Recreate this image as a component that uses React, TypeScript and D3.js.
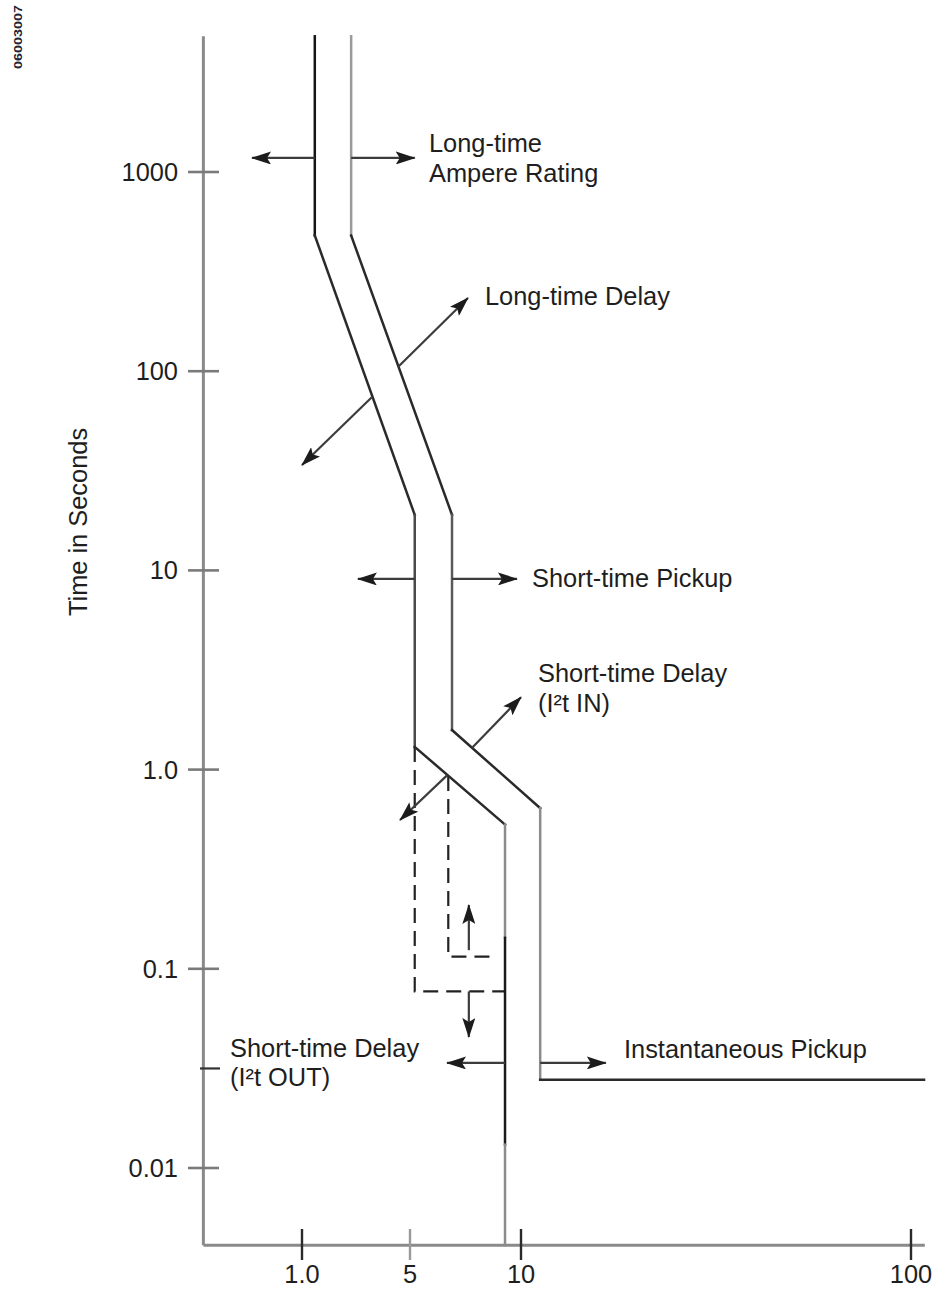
import React from "react";
import * as d3 from "d3";

const W = 936;
const H = 1289;

// ---- axes ----
const xTickValues = [1, 5, 10, 100];
const xTickLabels = ["1.0", "5", "10", "100"];
const yTickValues = [1000, 100, 10, 1, 0.1, 0.01];
const yTickLabels = ["1000", "100", "10", "1.0", "0.1", "0.01"];
const yMinorTicks = [0.0316];
const xExtent = [0.23, 108.5];
const yExtent = [4800, 0.0041];
const yTitle = "Time in Seconds";
const figureId = "06003007";

// ---- trip band curves: [multiple of current, seconds] ----
const minCurve: [number, number][] = [
  [1.21, 4800], [1.21, 480], [5.15, 19], [5.15, 1.3], [9.05, 0.53],
  [9.05, 0.143], [9.05, 0.0131], [9.05, 0.0041],
];
const maxCurve: [number, number][] = [
  [2.08, 4800], [2.08, 480], [6.5, 19], [6.5, 1.58], [11.2, 0.64],
  [11.2, 0.0277], [108, 0.0277],
];
const i2tOutDash: [number, number][] = [[5.15, 1.3], [5.15, 0.077], [9.05, 0.077]];
const i2tInDash: [number, number][] = [[6.35, 0.93], [6.35, 0.115], [8.5, 0.115]];

// ---- adjustment arrows: [from, to] ----
const arrowFrom: [number, number][] = [
  [1.21, 1176], [2.08, 1176],
  [2.84, 74.2], [4.18, 105],
  [5.15, 9.06], [6.5, 9.06],
  [7.36, 1.284], [6.3, 0.935],
  [7.22, 0.124], [7.22, 0.077],
  [9.05, 0.0337], [11.2, 0.0337],
];
const arrowTo: [number, number][] = [
  [0.475, 1176], [5.15, 1176],
  [1.0, 33.8], [7.18, 233],
  [2.3, 9.06], [9.75, 9.06],
  [10, 2.31], [4.31, 0.558],
  [7.22, 0.209], [7.22, 0.0455],
  [6.3, 0.0337], [16.5, 0.0337],
];

// ---- annotation texts ----
const labelAmpere = ["Long-time", "Ampere Rating"];
const labelLTD = ["Long-time Delay"];
const labelSTP = ["Short-time Pickup"];
const labelSTDin = ["Short-time Delay", "(I²t IN)"];
const labelSTDout = ["Short-time Delay", "(I²t OUT)"];
const labelInst = ["Instantaneous Pickup"];

const FONT = "'Liberation Sans', Arial, Helvetica, sans-serif";
const FS = 25.4;

export default function App() {
  const x = d3.scaleLog().domain(xTickValues).range([302, 410, 521, 911]);
  const y = d3.scaleLog().domain([1000, 0.01]).range([172, 1168]);
  const line = d3
    .line<[number, number]>()
    .x((d) => x(d[0]))
    .y((d) => y(d[1]));

  const minColors = ["#151515", "#2a2a2a", "#4a4a4a", "#2a2a2a", "#8c8c8c", "#1a1a1a", "#8c8c8c"];
  const maxColors = ["#9a9a9a", "#2a2a2a", "#5a5a5a", "#2a2a2a", "#8c8c8c", "#2a2a2a"];

  const segs = (pts: [number, number][], colors: string[], key: string) =>
    pts.slice(1).map((p, i) => (
      <path
        key={key + i}
        d={line([pts[i], p]) || ""}
        stroke={colors[i]}
        strokeWidth={2.5}
        fill="none"
        strokeLinecap="square"
      />
    ));

  const textLines = (lines: string[], px: number, py: number, dy: number, key: string) =>
    lines.map((t, i) => (
      <text key={key + i} x={px} y={py + i * dy} fontSize={FS} fontFamily={FONT} fill="#1e1e1e">
        {t}
      </text>
    ));

  return (
    <div style={{ position: "absolute", left: 0, top: 0 }}>
      <svg width={W} height={H} viewBox={`0 0 ${W} ${H}`} style={{ display: "block", background: "#fff" }}>
        <defs>
          <marker
            id="ah"
            viewBox="0 0 20 13"
            refX={19}
            refY={6.5}
            markerWidth={20}
            markerHeight={13}
            markerUnits="userSpaceOnUse"
            orient="auto"
          >
            <path d="M0,0 L20,6.5 L0,13 L4,6.5 z" fill="#1c1c1c" />
          </marker>
        </defs>

        {/* figure id */}
        <text
          transform={`translate(22,37) rotate(-90)`}
          textAnchor="middle"
          fontSize={10}
          fontWeight="bold"
          fontFamily={FONT}
          fill="#223"
          textLength={64}
          lengthAdjust="spacingAndGlyphs"
        >
          {figureId}
        </text>

        {/* axes */}
        <line x1={x(xExtent[0])} x2={x(xExtent[0])} y1={y(yExtent[0])} y2={y(yExtent[1])} stroke="#8a8a8a" strokeWidth={3} />
        <line x1={x(xExtent[0])} x2={x(xExtent[1])} y1={y(yExtent[1])} y2={y(yExtent[1])} stroke="#8a8a8a" strokeWidth={3} />

        {yTickValues.map((v, i) => (
          <g key={"yt" + i}>
            <line x1={188} x2={219} y1={y(v)} y2={y(v)} stroke="#7a7a7a" strokeWidth={2.6} />
            <text x={178} y={y(v) + 9} textAnchor="end" fontSize={FS} fontFamily={FONT} fill="#1e1e1e">
              {yTickLabels[i]}
            </text>
          </g>
        ))}
        {yMinorTicks.map((v, i) => (
          <line key={"ym" + i} x1={200} x2={220} y1={y(v)} y2={y(v)} stroke="#333" strokeWidth={2.2} />
        ))}
        {xTickValues.map((v, i) => (
          <g key={"xt" + i}>
            <line x1={x(v)} x2={x(v)} y1={1229} y2={1260} stroke={i === 1 ? "#9a9a9a" : "#2a2a2a"} strokeWidth={2.4} />
            <text x={x(v)} y={1283} textAnchor="middle" fontSize={FS} fontFamily={FONT} fill="#1e1e1e">
              {xTickLabels[i]}
            </text>
          </g>
        ))}
        <text
          transform={`translate(87,522) rotate(-90)`}
          textAnchor="middle"
          fontSize={FS}
          fontFamily={FONT}
          fill="#1e1e1e"
        >
          {yTitle}
        </text>

        {/* dashed I2t out regions */}
        <path d={line(i2tOutDash) || ""} fill="none" stroke="#222" strokeWidth={2.2} strokeDasharray="15,8" />
        <path d={line(i2tInDash) || ""} fill="none" stroke="#222" strokeWidth={2.2} strokeDasharray="15,8" />

        {/* band curves */}
        {segs(minCurve, minColors, "mn")}
        {segs(maxCurve, maxColors, "mx")}

        {/* arrows */}
        {arrowFrom.map((f, i) => (
          <line
            key={"ar" + i}
            x1={x(f[0])}
            y1={y(f[1])}
            x2={x(arrowTo[i][0])}
            y2={y(arrowTo[i][1])}
            stroke="#3c3c3c"
            strokeWidth={2.2}
            markerEnd="url(#ah)"
          />
        ))}

        {/* labels */}
        {textLines(labelAmpere, 429, 152, 30, "la")}
        {textLines(labelLTD, 485, 305, 30, "lt")}
        {textLines(labelSTP, 532, 587, 30, "sp")}
        {textLines(labelSTDin, 538, 682, 30, "si")}
        {textLines(labelSTDout, 230, 1057, 29, "so")}
        {textLines(labelInst, 624, 1058, 30, "ip")}
      </svg>
    </div>
  );
}
